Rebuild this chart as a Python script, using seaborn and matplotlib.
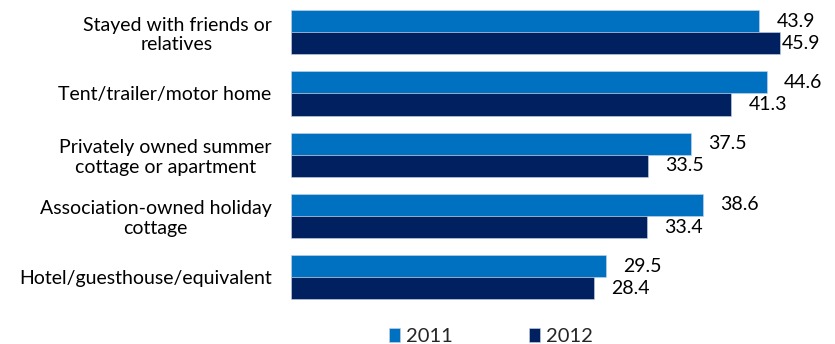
import matplotlib
matplotlib.use('Agg')
import matplotlib.pyplot as plt
import seaborn as sns
import pandas as pd

# Data
categories = [
    "Stayed with friends or\nrelatives",
    "Tent/trailer/motor home",
    "Privately owned summer\ncottage or apartment",
    "Association-owned holiday\ncottage",
    "Hotel/guesthouse/equivalent",
]
years = ["2011", "2012"]
values_2011 = [43.9, 44.6, 37.5, 38.6, 29.5]
values_2012 = [45.9, 41.3, 33.5, 33.4, 28.4]
colors = ["#0070C0", "#002060"]

df = pd.DataFrame({
    "category": categories * 2,
    "year": [years[0]] * len(categories) + [years[1]] * len(categories),
    "value": values_2011 + values_2012,
})

sns.set_theme(style="white")
plt.rcParams['font.family'] = ['Lato', 'DejaVu Sans']

fig = plt.figure(figsize=(8.35, 3.44), dpi=100)
ax = fig.add_axes([0.3485, 0.105, 0.6385, 0.8905])

sns.barplot(data=df, y="category", x="value", hue="year", order=categories,
            hue_order=years, palette=colors, saturation=1, width=0.72,
            orient="h", edgecolor="#c8d4e8", linewidth=0.4, ax=ax)

ax.set_xlim(0, 50)
ax.set_xlabel("")
ax.set_ylabel("")
ax.set_xticks([])
for side in ["top", "right", "bottom", "left"]:
    ax.spines[side].set_visible(False)

ax.tick_params(axis="y", length=0, pad=14, labelsize=14, colors="black")
for lbl in ax.get_yticklabels():
    lbl.set_multialignment("center")

# value labels to the right of each bar
for cont in ax.containers:
    for bar, v in zip(cont, cont.datavalues):
        p = 1 if v > 45 else 12.5
        ax.annotate(f"{v:.1f}", (bar.get_width(), bar.get_y() + bar.get_height() / 2),
                    xytext=(p, 0), textcoords="offset points",
                    va="center", ha="left", fontsize=14, color="black")

ax.legend(loc="upper center", bbox_to_anchor=(0.375, -0.005), ncol=2,
          frameon=False, fontsize=14.5, handlelength=0.55, handleheight=0.7,
          handletextpad=0.3, columnspacing=3.8)

fig.savefig("out.png", dpi=100)
